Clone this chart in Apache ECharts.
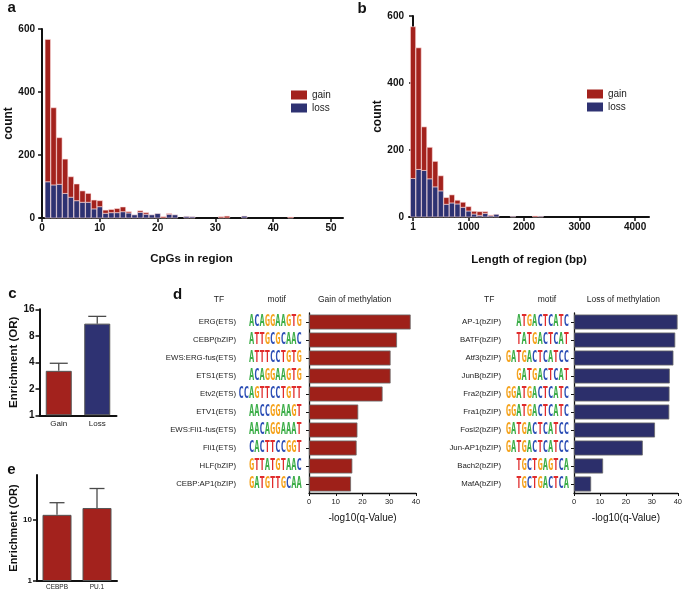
<!DOCTYPE html>
<html><head><meta charset="utf-8">
<script src="https://cdn.jsdelivr.net/npm/echarts@6/dist/echarts.min.js"></script>
<style>html,body{margin:0;padding:0;background:#fff}#c{width:685px;height:594px}</style>
</head><body><div id="c"></div>
<script>
// ---- data ----
const cpgBins = Array.from({length: 43}, (_, i) => i + 1);
const cpgGain = [452,245,148,109,65,53,36,28,28,19, 10,10,13,15,4,0,5,5,0,0, 4,2,0,0,0,0,0,0,0,0, 4,6,0,0,0,0,0,0,0,0, 0,0,3];
const cpgLoss = [115,105,107,78,66,55,50,50,29,36, 15,17,17,20,16,10,18,12,10,14, 0,12,10,0,5,4,0,0,0,0, 0,0,0,0,6,0,0,0,0,0, 0,0,0];
const cpgTicks = [0,10,20,30,40,50];

const lenBins = [1,101,201,301,401,501,601,701,801,901,1001,1101,1201,1301,1401,1501,1601,1701,1801,1901,2001,2101,2201,2301];
const lenGain = [453,363,130,94,76,45,20,24,11,15,13,8,11,5,2,0,0,0,0,0,0,0,3,0];
const lenLoss = [115,142,139,114,90,78,38,42,39,29,18,9,5,11,4,8,0,0,2,0,0,0,0,2];
const lenTicks = [1,1000,2000,3000,4000];

const orCats = ['Gain','Loss'];
const orValues = [3.2, 11.0];
const orErrTop = [3.9, 13.3];

const tfCats = ['CEBPB','PU.1'];
const tfValues = [12.2, 15.8];
const tfErrTop = [19.3, 33];
const tfTicks = [1, 10];

const gainTF = ['ERG(ETS)','CEBP(bZIP)','EWS:ERG-fus(ETS)','ETS1(ETS)','Etv2(ETS)','ETV1(ETS)','EWS:Fli1-fus(ETS)','Fli1(ETS)','HLF(bZIP)','CEBP:AP1(bZIP)'];
const gainMotif = ['ACAGGAAGTG','ATTGCGCAAC','ATTTCCTGTG','ACAGGAAGTG','CCAGTTCCTGTT','AACCGGAAGT','AACAGGAAAT','CACTTCCGGT','GTTATGTAAC','GATGTTGCAA'];
const gainQ = [38.0,32.9,30.5,30.5,27.5,18.4,18.1,17.8,16.2,15.7];

const lossTF = ['AP-1(bZIP)','BATF(bZIP)','Atf3(bZIP)','JunB(bZIP)','Fra2(bZIP)','Fra1(bZIP)','Fosl2(bZIP)','Jun-AP1(bZIP)','Bach2(bZIP)','MafA(bZIP)'];
const lossMotif = ['ATGACTCATC','TATGACTCAT','GATGACTCATCC','GATGACTCAT','GGATGACTCATC','GGATGACTCATC','GATGACTCATCC','GATGACTCATCC','TGCTGAGTCA','TGCTGACTCA'];
const lossQ = [39.9,39.0,38.3,36.9,36.8,36.7,31.2,26.5,11.2,6.6];

const qTicks = [0,10,20,30,40];

// ---- styles ----
const RED = '#A3221D', BLUE = '#2E3272';
const FONT = "'Liberation Sans', Arial, sans-serif";
const chart = echarts.init(document.getElementById('c'), null, {renderer: 'canvas'});

function histXAxis(grid, min, max, ticks, name, nameGap) {
  return {
    type: 'value', gridIndex: grid, min, max,
    axisLine: {show: true, onZero: false, lineStyle: {color: '#111', width: 2}},
    axisTick: {show: true, length: 4, lineStyle: {color: '#111', width: 1.5}, customValues: ticks},
    axisLabel: {fontSize: 10, fontWeight: 'bold', color: '#111', margin: 5, customValues: ticks,
                fontFamily: FONT, formatter: v => String(v)},
    splitLine: {show: false},
    name, nameLocation: 'middle', nameGap,
    nameTextStyle: {fontSize: 11.5, fontWeight: 'bold', color: '#111', fontFamily: FONT}
  };
}
function histYAxis(grid, nameGap) {
  return {
    type: 'value', gridIndex: grid, min: 0, max: 600, interval: 200,
    axisLine: {show: true, lineStyle: {color: '#111', width: 2}},
    axisTick: {show: true, length: 4, lineStyle: {color: '#111', width: 1.5}},
    axisLabel: {fontSize: 10, fontWeight: 'bold', color: '#111', margin: 5, fontFamily: FONT},
    splitLine: {show: false},
    name: 'count', nameLocation: 'middle', nameGap, nameRotate: 90,
    nameTextStyle: {fontSize: 12, fontWeight: 'bold', color: '#111', fontFamily: FONT}
  };
}

// stacked histogram segment: value(0)=bin centre, value(1)=count, value(2)=base count
function histRender(binWidth) {
  return function (params, api) {
    const x = api.value(0), v = api.value(1), base = api.value(2);
    if (!v) return null;
    const w = api.size([binWidth, 0])[0] * 0.94;
    const p0 = api.coord([x, base]);
    const p1 = api.coord([x, base + v]);
    return {type: 'rect',
      shape: {x: p0[0] - w / 2, y: p1[1], width: w, height: p0[1] - p1[1]},
      style: {fill: api.visual('color'), stroke: 'rgba(255,225,225,0.95)', lineWidth: 0.6}};
  };
}
function histSeries(name, xi, bins, vals, bases, binWidth, color) {
  return {name, type: 'custom', xAxisIndex: xi, yAxisIndex: xi, renderItem: histRender(binWidth),
    itemStyle: {color}, encode: {x: 0, y: 1},
    data: bins.map((b, i) => [b, vals[i], bases ? bases[i] : 0])};
}

function errRender(capHalf) {
  return function (params, api) {
    const i = api.value(0);
    const p0 = api.coord([i, api.value(1)]);
    const p1 = api.coord([i, api.value(2)]);
    const st = {stroke: '#4a4a4a', lineWidth: 1.3};
    return {type: 'group', children: [
      {type: 'line', shape: {x1: p0[0], y1: p0[1], x2: p1[0], y2: p1[1]}, style: st},
      {type: 'line', shape: {x1: p1[0] - capHalf, y1: p1[1], x2: p1[0] + capHalf, y2: p1[1]}, style: st}
    ]};
  };
}

function dXAxis(grid) {
  return {
    type: 'value', gridIndex: grid, min: 0, max: 40,
    axisLine: {show: true, onZero: false, lineStyle: {color: '#111', width: 1.3}},
    axisTick: {show: true, length: 3, lineStyle: {color: '#111'}, customValues: qTicks},
    axisLabel: {fontSize: 7.5, color: '#222', margin: 5, customValues: qTicks, fontFamily: FONT},
    splitLine: {show: false},
    name: '-log10(q-Value)', nameLocation: 'middle', nameGap: 20,
    nameTextStyle: {fontSize: 10, color: '#111', fontFamily: FONT}
  };
}
function dYAxis(grid, cats) {
  return {
    type: 'category', gridIndex: grid, data: cats, inverse: true,
    axisLine: {show: true, lineStyle: {color: '#111', width: 1.3}},
    axisTick: {show: true, length: 3, alignWithLabel: true, lineStyle: {color: '#111'}},
    axisLabel: {fontSize: 7.8, color: '#222', margin: 73, fontFamily: FONT},
    splitLine: {show: false}
  };
}

const legendCommon = {orient: 'vertical', itemWidth: 16, itemHeight: 9, itemGap: 3, icon: 'rect',
  data: ['gain', 'loss'], textStyle: {fontSize: 10, color: '#222', fontFamily: FONT}, selectedMode: false};

const option = {
  animation: false,
  backgroundColor: '#fff',
  textStyle: {fontFamily: FONT},
  grid: [
    {left: 40, top: 29, width: 303, height: 189},
    {left: 409, top: 16, width: 240, height: 201},
    {left: 39.5, top: 309.3, width: 77, height: 106},
    {left: 37, top: 475, width: 80, height: 106},
    {left: 309, top: 313, width: 107, height: 180},
    {left: 574, top: 313, width: 105, height: 180}
  ],
  legend: [
    Object.assign({left: 286, top: 85}, legendCommon),
    Object.assign({left: 582, top: 84}, legendCommon)
  ],
  xAxis: [
    histXAxis(0, -0.35, 52.07, cpgTicks, 'CpGs in region', 35),
    histXAxis(1, -72, 4251, lenTicks, 'Length of region (bp)', 37),
    {type: 'category', gridIndex: 2, data: orCats,
     axisLine: {lineStyle: {color: '#111', width: 2}}, axisTick: {show: false},
     axisLabel: {fontSize: 8, color: '#222', margin: 4, fontFamily: FONT}},
    {type: 'category', gridIndex: 3, data: tfCats,
     axisLine: {lineStyle: {color: '#111', width: 2}}, axisTick: {show: false},
     axisLabel: {fontSize: 6.5, color: '#222', margin: 3, fontFamily: FONT}},
    dXAxis(4),
    dXAxis(5)
  ],
  yAxis: [
    histYAxis(0, 22),
    histYAxis(1, 24),
    {type: 'log', logBase: 2, gridIndex: 2, min: 1, max: 16,
     axisLine: {show: true, lineStyle: {color: '#111', width: 2}},
     axisTick: {show: true, length: 4, lineStyle: {color: '#111', width: 1.5}},
     axisLabel: {fontSize: 10, fontWeight: 'bold', color: '#111', margin: 5, fontFamily: FONT},
     splitLine: {show: false}, minorTick: {show: false},
     name: 'Enrichment (OR)', nameLocation: 'middle', nameGap: 20, nameRotate: 90,
     nameTextStyle: {fontSize: 11.5, fontWeight: 'bold', color: '#111', fontFamily: FONT}},
    {type: 'log', logBase: 10, gridIndex: 3, min: 1, max: 55,
     axisLine: {show: true, lineStyle: {color: '#111', width: 2}},
     axisTick: {show: true, length: 4, lineStyle: {color: '#111', width: 1.5}, customValues: tfTicks},
     axisLabel: {fontSize: 8, fontWeight: 'bold', color: '#111', margin: 5, customValues: tfTicks, fontFamily: FONT},
     splitLine: {show: false},
     name: 'Enrichment (OR)', nameLocation: 'middle', nameGap: 17, nameRotate: 90,
     nameTextStyle: {fontSize: 11, fontWeight: 'bold', color: '#111', fontFamily: FONT}},
    dYAxis(4, gainTF),
    dYAxis(5, lossTF)
  ],
  series: [
    histSeries('loss', 0, cpgBins, cpgLoss, null, 1, BLUE),
    histSeries('gain', 0, cpgBins, cpgGain, cpgLoss, 1, RED),
    histSeries('loss', 1, lenBins, lenLoss, null, 100, BLUE),
    histSeries('gain', 1, lenBins, lenGain, lenLoss, 100, RED),
    {type: 'bar', xAxisIndex: 2, yAxisIndex: 2, barWidth: 26,
     data: orValues.map((v, i) => ({value: v, itemStyle: {color: i === 0 ? RED : BLUE}})),
     itemStyle: {borderColor: '#555', borderWidth: 1}},
    {type: 'custom', xAxisIndex: 2, yAxisIndex: 2, z: 5, renderItem: errRender(9),
     encode: {x: 0, y: [1, 2]}, data: orCats.map((c, i) => [i, orValues[i], orErrTop[i]])},
    {type: 'bar', xAxisIndex: 3, yAxisIndex: 3, barWidth: 29,
     data: tfValues, itemStyle: {color: RED, borderColor: '#555', borderWidth: 1}},
    {type: 'custom', xAxisIndex: 3, yAxisIndex: 3, z: 5, renderItem: errRender(7.5),
     encode: {x: 0, y: [1, 2]}, data: tfCats.map((c, i) => [i, tfValues[i], tfErrTop[i]])},
    {type: 'bar', xAxisIndex: 4, yAxisIndex: 4, barWidth: 15, data: gainQ,
     itemStyle: {color: '#9E2019', borderColor: '#6a6a6a', borderWidth: 0.8}},
    {type: 'bar', xAxisIndex: 5, yAxisIndex: 5, barWidth: 15, data: lossQ,
     itemStyle: {color: '#2C2F6B', borderColor: '#6a6a6a', borderWidth: 0.8}}
  ]
};
chart.setOption(option);

// ---- text annotations (headers, panel letters, motif logos as coloured text) ----
const NUC = {
  A: {fill: '#3DAE49'}, C: {fill: '#2C4EB5'}, G: {fill: '#F5A31E'}, T: {fill: '#E02B2B'}
};
function motifText(seq) { return seq.split('').map(ch => '{' + ch + '|' + ch + '}').join(''); }
const gfx = [];
function label(txt, x, y, opts) {
  gfx.push({type: 'text', x, y, silent: true, style: Object.assign({
    text: txt, fontSize: 8.5, fill: '#222', fontFamily: FONT, align: 'center', verticalAlign: 'middle'
  }, opts || {})});
}
label('a', 11.7, 7.8, {fontSize: 15, fontWeight: 'bold', fill: '#111'});
label('b', 362, 8.4, {fontSize: 15, fontWeight: 'bold', fill: '#111'});
label('c', 12.5, 293.5, {fontSize: 15, fontWeight: 'bold', fill: '#111'});
label('d', 177.5, 294.5, {fontSize: 15, fontWeight: 'bold', fill: '#111'});
label('e', 11.5, 469.5, {fontSize: 15, fontWeight: 'bold', fill: '#111'});
label('TF', 219, 300);
label('motif', 276.7, 300);
label('Gain of methylation', 318, 300, {align: 'left'});
label('TF', 489.3, 300);
label('motif', 547, 300);
label('Loss of methylation', 586.7, 300, {align: 'left'});

function addMotifs(yAxisIndex, motifs, rightX) {
  motifs.forEach((m, i) => {
    const y = chart.convertToPixel({yAxisIndex}, i);
    gfx.push({type: 'text', x: rightX, y, scaleX: 0.625, scaleY: 1.12, silent: true,
      style: {text: motifText(m), rich: NUC, fontSize: 14, fontWeight: 'bold',
              fontFamily: "'DejaVu Sans Mono', monospace", align: 'right', verticalAlign: 'middle'}});
  });
}
addMotifs(4, gainMotif, 301.7);
addMotifs(5, lossMotif, 569);
chart.setOption({graphic: gfx});
</script></body></html>
